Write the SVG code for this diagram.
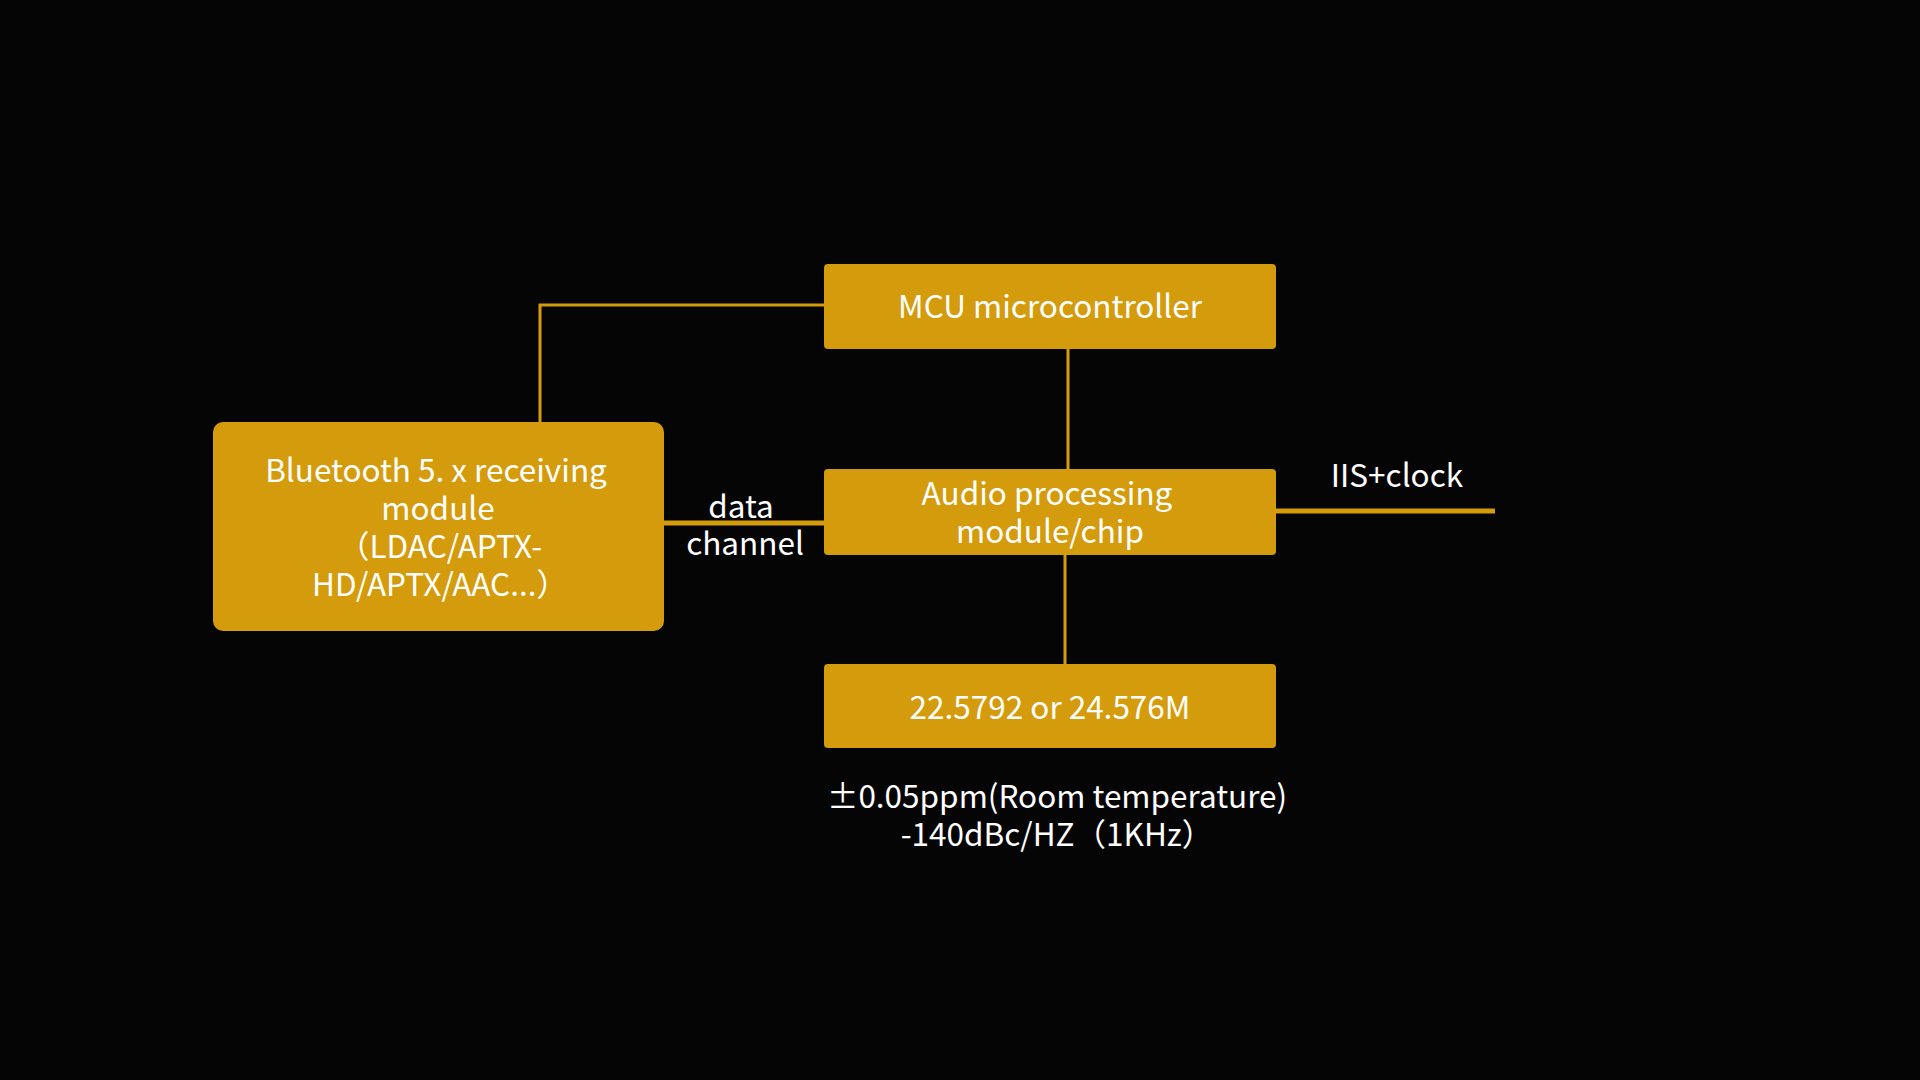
<svg xmlns="http://www.w3.org/2000/svg" width="1920" height="1080" viewBox="0 0 1920 1080">
<style>
.box{fill:#D49C0C;}
.t{font-family:"Noto Sans CJK SC","Noto Sans",sans-serif;font-size:31.5px;fill:#FFFFFF;text-anchor:middle;}
.ln{stroke:#D49C0C;fill:none;stroke-width:3;}
.thick{stroke:#D49C0C;fill:none;stroke-width:5;}
</style>
<rect width="1920" height="1080" fill="#050505"/>
<g id="connectors">
<polyline class="ln" points="824,305 540,305 540,422"/>
<line class="ln" x1="1068" y1="349" x2="1068" y2="469"/>
<line class="ln" x1="1065" y1="555" x2="1065" y2="664"/>
<line class="thick" x1="664" y1="523" x2="824" y2="523"/>
<line class="thick" x1="1276" y1="511" x2="1495" y2="511"/>
<text class="t" x="741" y="518">data</text>
<text class="t" x="745" y="555">channel</text>
<text class="t" x="1397" y="487">IIS+clock</text>
</g>
<g id="bluetooth">
<rect class="box" x="213" y="422" width="451" height="209" rx="10"/>
<text class="t" x="436" y="482">Bluetooth 5. x receiving</text>
<text class="t" x="438" y="520">module</text>
<text class="t" x="440" y="558">（LDAC/APTX-</text>
<text class="t" x="440" y="596">HD/APTX/AAC...）</text>
</g>
<g id="mcu">
<rect class="box" x="824" y="264" width="452" height="85" rx="4"/>
<text class="t" x="1050" y="318">MCU microcontroller</text>
</g>
<g id="audio">
<rect class="box" x="824" y="469" width="452" height="86" rx="4"/>
<text class="t" x="1047" y="505">Audio processing</text>
<text class="t" x="1050" y="543">module/chip</text>
</g>
<g id="freq">
<rect class="box" x="824" y="664" width="452" height="84" rx="4"/>
<text class="t" x="1050" y="719">22.5792 or 24.576M</text>
</g>
<g id="spec">
<text class="t" x="1057" y="808">±0.05ppm(Room temperature)</text>
<text class="t" x="1057" y="846">-140dBc/HZ（1KHz）</text>
</g>
</svg>
